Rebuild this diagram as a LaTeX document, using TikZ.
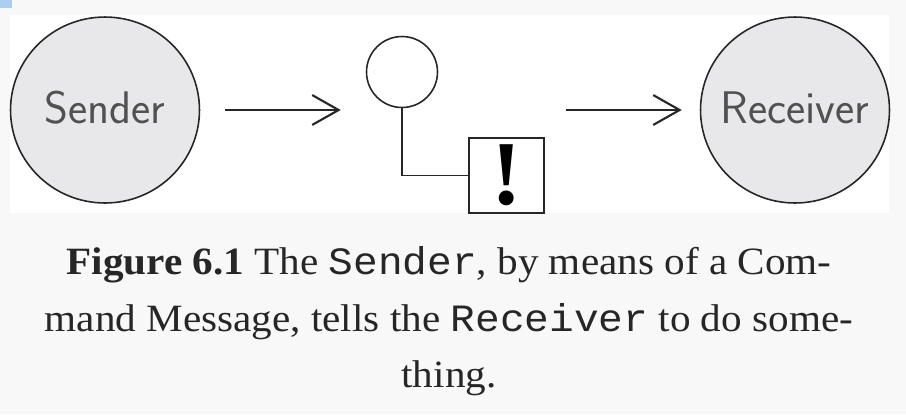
\documentclass[tikz,border=0pt]{standalone}
\usepackage{fontspec}
\setmainfont{Liberation Serif}[FakeStretch=1.065]
\setmonofont{Liberation Mono}[FakeStretch=1.065]
\newfontfamily\bangfont{Liberation Serif}
\usetikzlibrary{shapes.geometric,arrows.meta,positioning}
\definecolor{pagebg}{RGB}{248,248,248}
\definecolor{actorgray}{RGB}{232,232,234}
\definecolor{ink}{RGB}{38,38,38}
\definecolor{corner}{RGB}{172,206,240}

\begin{document}
\begin{tikzpicture}[x=0.02cm,y=-0.02cm,
		actor/.style={ellipse,draw=ink,line width=0.9pt,fill=actorgray,minimum width=3.78cm,minimum height=3.72cm,inner sep=0pt,text=ink!80,font=\sffamily\fontsize{26}{26}\selectfont},
		flow/.style={-{Straight Barb[length=15pt,width=17pt,line width=1.2pt]},line width=1.2pt,color=ink},
		capline/.style={anchor=base,text=ink,font=\fontsize{22}{26}\selectfont}]
		\useasboundingbox (0,0) rectangle (906,414);
		\fill[pagebg] (0,0) rectangle (906,414);
		\fill[corner] (0,0) rectangle (12,8);
		\fill[white] (10,15) rectangle (889,213);
		% sender, message, receiver
		\node[actor] (snd) at (105,110) {\makebox[0pt]{\raisebox{3pt}{Sender}}};
		\node[actor] (rcv) at (795,110) {\makebox[0pt]{\raisebox{3pt}{Receiver}}};
		\node[circle,draw=ink,line width=0.9pt,minimum size=1.42cm,inner sep=0pt] (msg) at (402,72) {};
		\node[draw=ink,line width=0.9pt,fill=white,minimum size=1.5cm,inner sep=0pt,font=\bangfont\bfseries\fontsize{52}{52}\selectfont] (cmd) at (506.5,175.5) {!};
		\draw[ink,line width=0.9pt] (msg.south) |- (cmd.west);
		\draw[flow,shorten <=0.5cm,shorten >=0.5cm] (snd.east) -- (msg.west |- snd.east);
		\draw[flow,shorten <=0.42cm,shorten >=0.36cm] (cmd.east |- rcv.west) -- (rcv.west);
		% caption
		\node[capline] (cap1) at (449,274) {\textbf{Figure 6.1} The \texttt{Sender}, by means of a Com-};
		\node[capline] (cap2) at (449,331) {mand Message, tells the \texttt{Receiver} to do some-};
		\node[capline] (cap3) at (449,387) {thing.};
\end{tikzpicture}
\end{document}
